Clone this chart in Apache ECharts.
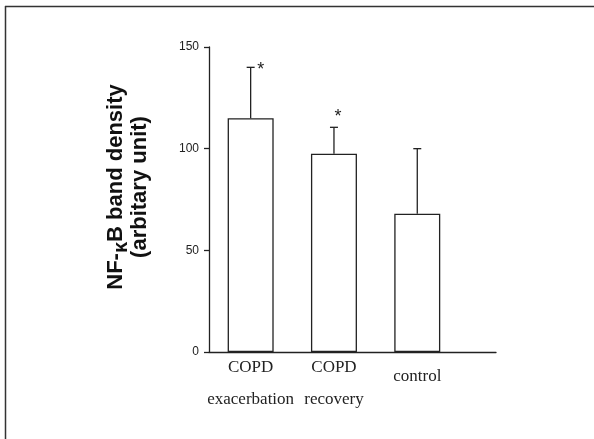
<!DOCTYPE html>
<html>
<head>
<meta charset="utf-8">
<script src="https://cdn.jsdelivr.net/npm/echarts@6/dist/echarts.min.js"></script>
<style>
  html, body { margin: 0; padding: 0; background: #fff; }
  #chart { width: 594px; height: 439px; }
</style>
</head>
<body>
<div id="chart"></div>
<script>
// values
var categories = ['COPD\nexacerbation', 'COPD\nrecovery', 'control'];
var means = [115, 97.5, 68];
var errors = [25, 13, 32];
var stars = ['*', '*', ''];

// where each asterisk sits relative to the top of its error bar (px)
var starOffsets = [[10, 3], [4, -10], [0, 0]];

var chart = echarts.init(document.getElementById('chart'));

var barData = means.map(function (m, i) { return [i, m]; });
var errData = means.map(function (m, i) { return [i, m, m + errors[i]]; });

function renderError(params, api) {
  var i = api.value(0);
  var base = api.coord([i, api.value(1)]);
  var top = api.coord([i, api.value(2)]);
  var st = { stroke: '#222', lineWidth: 1.3 };
  var off = starOffsets[i];
  return {
    type: 'group',
    children: [
      { type: 'line', shape: { x1: top[0], y1: base[1], x2: top[0], y2: top[1] }, style: st },
      { type: 'line', shape: { x1: top[0] - 4, y1: top[1], x2: top[0] + 4, y2: top[1] }, style: st },
      {
        type: 'text',
        style: {
          text: stars[i], x: top[0] + off[0], y: top[1] + off[1],
          align: 'center', verticalAlign: 'middle',
          font: '18px "Liberation Sans"', fill: '#222'
        }
      }
    ]
  };
}

var option = {
  animation: false,
  backgroundColor: '#fff',
  grid: { left: 209, top: 47, right: 98, bottom: 87 },
  xAxis: {
    type: 'value',
    min: -0.5,
    max: 2.945,
    splitLine: { show: false },
    axisTick: { show: false },
    axisLine: { show: true, onZero: false, lineStyle: { color: '#222', width: 1.3 } },
    axisLabel: {
      customValues: [0, 1, 2],
      margin: 0,
      fontFamily: 'Liberation Serif',
      fontSize: 17,
      lineHeight: 32,
      color: '#222',
      formatter: function (v) {
        var s = categories[Math.round(v)];
        return s.indexOf('\n') >= 0 ? s : '{one|' + s + '}';
      },
      rich: {
        one: { fontFamily: 'Liberation Serif', fontSize: 17, lineHeight: 32, padding: [17, 0, 0, 0], color: '#222' }
      }
    }
  },
  yAxis: {
    type: 'value',
    min: 0,
    max: 150,
    interval: 50,
    splitLine: { show: false },
    axisLine: { show: true, onZero: false, lineStyle: { color: '#222', width: 1.3 } },
    axisTick: { show: true, length: 5, lineStyle: { color: '#222', width: 1.3 } },
    axisLabel: { fontFamily: 'Liberation Sans', fontSize: 12, color: '#222', margin: 10 },
    name: '{a|NF-}{k|κ}{a|B band density}\n{a|(arbitary unit)}',
    nameLocation: 'middle',
    nameGap: 57,
    nameRotate: 90,
    nameTextStyle: {
      padding: [0, 0, 0, 25],
      rich: {
        a: { fontFamily: 'Liberation Sans', fontWeight: 'bold', fontSize: 22, lineHeight: 24, color: '#111' },
        k: { fontFamily: 'Liberation Sans', fontWeight: 'bold', fontSize: 20, lineHeight: 16, padding: [10, 0, 0, 0], color: '#111' }
      }
    }
  },
  series: [
    {
      type: 'bar',
      data: barData,
      barWidth: 46,
      itemStyle: { color: '#fff', borderColor: '#222', borderWidth: 1.3 },
      silent: true
    },
    {
      type: 'custom',
      renderItem: renderError,
      data: errData,
      encode: { x: 0, y: [1, 2] },
      z: 3,
      silent: true
    }
  ],
  graphic: [
    { type: 'line', shape: { x1: 5, y1: 6.5, x2: 594, y2: 6.5 }, style: { stroke: '#333', lineWidth: 1.5 } },
    { type: 'line', shape: { x1: 5.5, y1: 6, x2: 5.5, y2: 439 }, style: { stroke: '#333', lineWidth: 1.5 } }
  ]
};

chart.setOption(option);
</script>
</body>
</html>
